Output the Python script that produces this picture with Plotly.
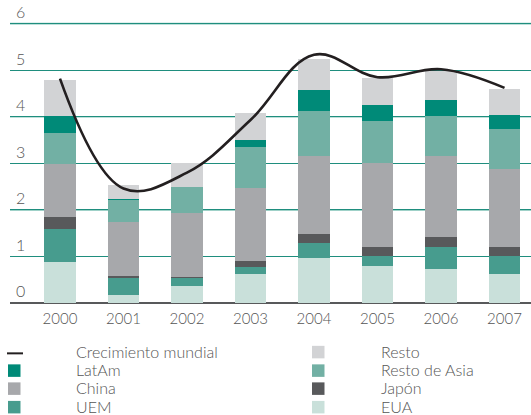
import plotly.graph_objects as go

years = ["2000", "2001", "2002", "2003", "2004", "2005", "2006", "2007"]
eua = [0.87, 0.17, 0.36, 0.62, 0.96, 0.79, 0.72, 0.62]
uem = [0.73, 0.38, 0.18, 0.15, 0.32, 0.23, 0.48, 0.38]
japon = [0.24, 0.02, 0.02, 0.13, 0.20, 0.18, 0.21, 0.20]
china = [1.14, 1.17, 1.37, 1.58, 1.68, 1.80, 1.75, 1.67]
resto_asia = [0.68, 0.48, 0.57, 0.86, 0.96, 0.90, 0.85, 0.86]
latam = [0.35, 0.02, 0.00, 0.17, 0.45, 0.35, 0.36, 0.30]
resto = [0.77, 0.30, 0.50, 0.56, 0.66, 0.58, 0.61, 0.56]
crecimiento = [4.82, 2.46, 2.80, 3.93, 5.33, 4.85, 5.02, 4.62]
y_ticks = [0, 1, 2, 3, 4, 5, 6]

series = [
    ("EUA", eua, "#c9e0da"),
    ("UEM", uem, "#479c8e"),
    ("Japón", japon, "#58595b"),
    ("China", china, "#a7a8ab"),
    ("Resto de Asia", resto_asia, "#72b0a4"),
    ("LatAm", latam, "#008a78"),
    ("Resto", resto, "#d2d3d5"),
]
colors = {n: c for n, _, c in series}

x = list(range(len(years)))
fig = go.Figure()
for name, vals, col in series:
    fig.add_trace(go.Bar(x=x, y=vals, name=name, marker=dict(color=col, line=dict(width=0)),
                         width=0.5, showlegend=False))
fig.add_trace(go.Scatter(x=x, y=crecimiento, mode="lines", name="Crecimiento mundial",
                         line=dict(color="#231f20", width=2.6, shape="spline", smoothing=1.1),
                         showlegend=False))

# lighter gridlines on even values
for v in [2, 4, 6]:
    fig.add_shape(type="line", xref="paper", x0=0, x1=1, yref="y", y0=v, y1=v,
                  line=dict(color="#7fc2b6", width=1.6), layer="below")

TXT = "#555555"
FAM = "Lato, 'Open Sans', sans-serif"
fig.update_layout(
    width=531, height=415,
    margin=dict(l=10, r=0, t=5, b=112),
    barmode="stack", bargap=0.5,
    plot_bgcolor="white", paper_bgcolor="white",
    font=dict(family=FAM, color=TXT, weight=300),
)
fig.update_xaxes(range=[-0.787, 7.417], tickvals=x, ticktext=years, showgrid=False,
                 zeroline=False, showline=False,
                 tickfont=dict(size=15, color=TXT, family=FAM, weight=300),
                 ticklabelstandoff=5)
fig.update_yaxes(range=[0, 6.4], tickvals=y_ticks, showgrid=True, gridcolor="#1f8e7e",
                 gridwidth=1.4, zeroline=True, zerolinecolor="#58595b", zerolinewidth=2.2,
                 ticklabelposition="inside top", ticklabeloverflow="allow",
                 tickfont=dict(size=16, color=TXT, family=FAM, weight=300), ticklabelstandoff=3)

# custom legend
H = 297.7
W = 521.0
def py(p):
    return (302.7 - p) / H
def px(p):
    return (p - 10) / W

left = [("Crecimiento mundial", None), ("LatAm", colors["LatAm"]), ("China", colors["China"]), ("UEM", colors["UEM"])]
right = [("Resto", colors["Resto"]), ("Resto de Asia", colors["Resto de Asia"]), ("Japón", colors["Japón"]), ("EUA", colors["EUA"])]
rows = [351, 369.5, 387.5, 406]
for (items, sx, tx) in [(left, 8, 74), (right, 312, 379)]:
    for (name, col), r in zip(items, rows):
        if col is None:
            fig.add_shape(type="line", xref="paper", yref="paper", x0=px(7), x1=px(23),
                          y0=py(r + 2), y1=py(r + 2), line=dict(color="#231f20", width=2))
        else:
            fig.add_shape(type="rect", xref="paper", yref="paper", x0=px(sx), x1=px(sx + 12.5),
                          y0=py(r - 5.5), y1=py(r + 7), fillcolor=col, line=dict(width=0))
        fig.add_annotation(text=name, xref="paper", yref="paper", x=px(tx), y=py(r),
                           xanchor="left", yanchor="middle", showarrow=False,
                           font=dict(size=16, color=TXT, family=FAM, weight=300))

fig.write_html("out.html", config={"displayModeBar": False},
               post_script="document.body.style.margin='0';document.body.style.overflow='hidden';")
